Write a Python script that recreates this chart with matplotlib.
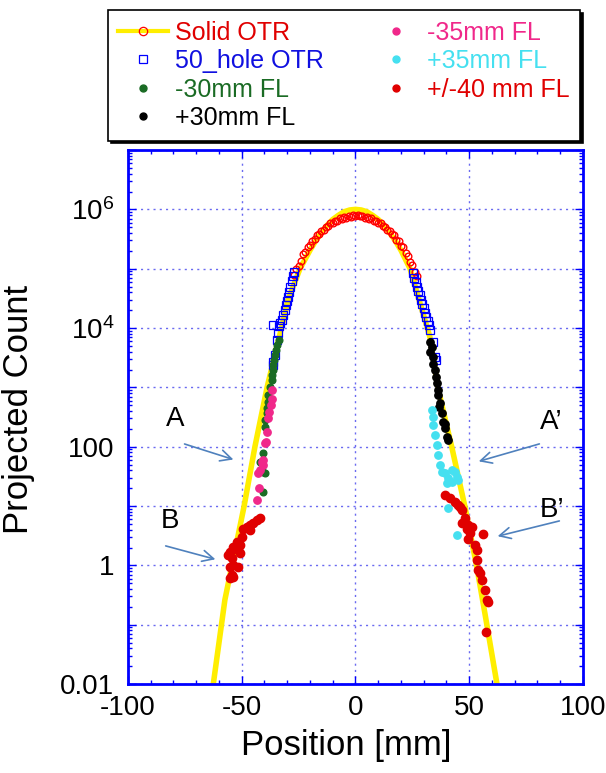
import numpy as np
import matplotlib
matplotlib.use('Agg')
import matplotlib.pyplot as plt
from matplotlib import rc
from matplotlib.lines import Line2D
from matplotlib.ticker import FixedLocator, FuncFormatter, MultipleLocator, LogLocator, NullFormatter

rc('font', family='Liberation Sans')
rc('mathtext', default='regular')
rc('axes', unicode_minus=False)

# all y values are log10(count)
# yellow fit curve
fit_x = [-63.2, -62.5, -57.4, -54.4, -49.0, -44.2, -38.8, -32.4, -29.7, -24.4, -20.0, -17.5, -15.0,
         -12.5, -10.0, -7.5, -5.0, -2.5, 0.0, 2.5, 5.0, 7.5, 10.0, 12.5, 15.0, 17.5, 20.0, 24.0,
         25.4, 32.7, 36.4, 42.3, 48.1, 53.3, 56.9, 62.2, 62.9]
fit_log = [-2.1, -2.0, -0.58, -0.02, 0.99, 2.0, 3.01, 4.02, 4.47, 5.0, 5.31, 5.47, 5.61,
           5.73, 5.83, 5.90, 5.96, 5.99, 6.0, 5.99, 5.96, 5.90, 5.83, 5.73, 5.61, 5.47, 5.31, 5.0,
           4.81, 3.85, 2.96, 2.0, 0.99, -0.02, -0.81, -2.0, -2.1]

# Solid OTR (open red circles)
solid_x = list(range(-27, 28))
solid_log = [4.90, 4.99, 5.04, 5.13, 5.24, 5.28, 5.37, 5.40, 5.47, 5.50, 5.56, 5.58, 5.64,
             5.66, 5.71, 5.72, 5.77, 5.77, 5.81, 5.81, 5.85, 5.84, 5.87, 5.86, 5.89, 5.87, 5.90,
             5.88, 5.90, 5.88, 5.89, 5.86, 5.87, 5.84, 5.85, 5.81, 5.81, 5.77, 5.77, 5.72, 5.71,
             5.66, 5.64, 5.58, 5.56, 5.49, 5.46, 5.39, 5.36, 5.27, 5.22, 5.12, 5.06, 4.95, 4.88]

# 50_hole OTR (open blue squares)
hole_x = [-27.0, -27.5, -28.0, -28.6, -29.2, -29.6, -30.1, -30.6, -31.2, -31.8, -32.4, -33.0,
          -33.6, -34.6, -36.1, -34.0, -35.4, -36.1, -36.4,
          25.2, 25.8, 26.4, 27.0, 27.6, 28.2, 28.8, 29.4, 30.0, 30.6, 31.2, 31.8, 32.4, 32.9,
          34.2, 34.9, 35.6]
hole_log = [4.95, 4.88, 4.80, 4.70, 4.60, 4.52, 4.45, 4.38, 4.30, 4.22, 4.14, 4.08,
            4.03, 3.80, 4.05, 3.91, 3.54, 3.43, 3.38,
            4.92, 4.85, 4.77, 4.70, 4.62, 4.55, 4.47, 4.40, 4.33, 4.26, 4.19, 4.12, 4.05, 3.96,
            3.77, 3.52, 3.46]

# -30mm FL (green)
m30_x = [-33.7, -34.6, -34.9, -35.4, -35.8, -36.1, -36.4, -36.8, -36.8, -37.6, -38.3, -38.3,
         -39.0, -39.0, -39.8, -39.8, -40.5, -42.0, -40.5, -39.8, -40.5]
m30_log = [3.80, 3.71, 3.63, 3.54, 3.46, 3.37, 3.29, 3.21, 3.12, 3.01, 2.87, 2.76,
           2.65, 2.56, 2.45, 2.34, 1.89, 1.75, 1.58, 1.55, 1.24]

# +30mm FL (black)
p30_x = [32.7, 33.5, 32.7, 33.9, 34.2, 34.9, 35.4, 35.7, 36.4, 36.4, 37.1, 36.8, 37.9, 38.6,
         39.3, 39.3, 40.1, 40.8]
p30_log = [3.77, 3.68, 3.60, 3.51, 3.40, 3.29, 3.18, 3.07, 2.95, 2.87, 2.73, 2.67, 2.56, 2.42,
           2.39, 2.31, 2.17, 2.11]

# -35mm FL (pink)
m35_x = [-36.8, -36.8, -37.3, -37.9, -38.3, -39.0, -39.3, -39.8, -40.5, -41.2, -40.8, -42.0,
         -42.7, -42.3, -43.2]
m35_log = [2.95, 2.81, 2.70, 2.59, 2.48, 2.25, 2.08, 2.06, 1.77, 1.75, 1.69, 1.61,
           1.55, 1.30, 1.11]

# +35mm FL (cyan)
p35_x = [33.5, 34.2, 34.2, 34.9, 35.7, 36.4, 37.1, 37.9, 39.3, 40.8, 42.3, 43.7, 44.5, 45.2,
         40.1, 42.3, 40.8, 44.5]
p35_log = [2.62, 2.50, 2.36, 2.20, 2.03, 1.86, 1.69, 1.58, 1.55, 1.47, 1.61, 1.58, 1.49, 1.44,
           1.38, 1.41, 0.96, 0.51]

# +/-40 mm FL (red)
pm40_x = [-42.0, -43.4, -44.9, -46.4, -47.8, -49.3, -46.4, -50.0, -52.2, -50.8, -53.0, -51.5,
          -53.7, -55.2, -55.9, -54.4, -50.8, -53.7, -51.5, -55.2, -54.4, -55.2, -53.7,
          39.3, 41.5, 43.7, 45.2, 45.9, 46.7, 48.1, 46.7, 49.6, 51.1, 48.9, 50.3, 49.6, 56.2,
          52.5, 53.3, 53.3, 54.0, 54.7, 55.5, 56.9, 57.7, 58.4, 57.4]
pm40_log = [0.79, 0.76, 0.71, 0.68, 0.65, 0.62, 0.59, 0.48, 0.40, 0.34, 0.31, 0.26,
            0.31, 0.23, 0.17, 0.12, 0.20, 0.01, -0.02, -0.02, -0.16, -0.22, -0.19,
            1.18, 1.13, 1.07, 1.02, 0.99, 0.93, 0.79, 0.71, 0.68, 0.65, 0.62, 0.54, 0.45, 0.53,
            0.34, 0.26, 0.09, -0.08, -0.13, -0.25, -0.42, -0.58, -0.61, -1.13]

col_yellow = '#FFEE00'
col_red = '#E00000'
col_blue = '#1010E0'
col_green = '#1A6B24'
col_pink = '#F0288A'
col_cyan = '#45E0F0'

fig = plt.figure(figsize=(6.06, 7.73), dpi=100)
ax = fig.add_axes([0.2112, 0.1151, 0.7508, 0.6908])

def pw(v):
    return 10.0 ** np.array(v)

ax.plot(fit_x, pw(fit_log), color=col_yellow, lw=4, zorder=2, solid_capstyle='butt')
ax.plot(solid_x, pw(solid_log), ls='none', marker='o', ms=4.8, mfc='none', mec='red', mew=1.0, zorder=3)
ax.plot(hole_x, pw(hole_log), ls='none', marker='s', ms=5.5, mfc='none', mec='blue', mew=0.9, zorder=3)
ax.plot(m30_x, pw(m30_log), ls='none', marker='o', ms=4.8, color=col_green, zorder=4)
ax.plot(p30_x, pw(p30_log), ls='none', marker='o', ms=5.3, color='black', zorder=4)
ax.plot(m35_x, pw(m35_log), ls='none', marker='o', ms=5.3, color=col_pink, zorder=4)
ax.plot(p35_x, pw(p35_log), ls='none', marker='o', ms=5.3, color=col_cyan, zorder=4)
ax.plot(pm40_x, pw(pm40_log), ls='none', marker='o', ms=6, color=col_red, zorder=4)

ax.set_yscale('log')
ax.set_xlim(-100, 100)
ax.set_ylim(0.01, 1e7)

# ticks
ax.xaxis.set_major_locator(MultipleLocator(50))
ax.xaxis.set_minor_locator(MultipleLocator(10))
ax.yaxis.set_major_locator(FixedLocator([10.0 ** k for k in range(-2, 8)]))
ax.yaxis.set_minor_locator(LogLocator(base=10, subs=np.arange(2, 10), numticks=20))
ax.yaxis.set_minor_formatter(NullFormatter())
ylabels = {-2: '0.01', 0: '1', 2: '100', 4: '$10^{4}$', 6: '$10^{6}$'}
ax.yaxis.set_major_formatter(FuncFormatter(lambda v, p: ylabels.get(int(round(np.log10(v))), '')))
ax.tick_params(which='both', direction='in', top=True, right=True, color='blue', labelsize=20)
ax.tick_params(which='major', length=6, width=1)
ax.tick_params(which='minor', length=3, width=1)
ax.tick_params(axis='x', pad=8)
ax.tick_params(axis='y', pad=10)

for s in ax.spines.values():
    s.set_color('blue')
    s.set_linewidth(2)

ax.grid(which='major', color='#6A6AF0', linestyle=(0, (1.5, 3)), linewidth=1)

ax.set_xlabel('Position [mm]', fontsize=25)
ax.set_ylabel('Projected Count', fontsize=25)
ax.xaxis.set_label_coords(0.479, -0.084)
ax.yaxis.set_label_coords(-0.205, 0.514)

# annotations A, B, A', B'
arrow_col = '#4F81BD'
aprops = dict(arrowstyle='->, head_length=0.5, head_width=0.25', color=arrow_col, lw=1.2, mutation_scale=16)
ax.text(-79.3, 10 ** 2.47, 'A', fontsize=20, ha='center', va='center')
ax.annotate('', xy=(-52.5, 10 ** 1.77), xytext=(-76.3, 10 ** 2.06), arrowprops=aprops)
ax.text(-81.5, 10 ** 0.74, 'B', fontsize=20, ha='center', va='center')
ax.annotate('', xy=(-60.4, 10 ** 0.09), xytext=(-84.6, 10 ** 0.34), arrowprops=aprops)
ax.text(85.9, 10 ** 2.41, 'A\u2019', fontsize=20, ha='center', va='center')
ax.annotate('', xy=(53.0, 10 ** 1.74), xytext=(82.0, 10 ** 2.06), arrowprops=aprops)
ax.text(86.4, 10 ** 0.94, 'B\u2019', fontsize=20, ha='center', va='center')
ax.annotate('', xy=(61.3, 10 ** 0.48), xytext=(90.8, 10 ** 0.76), arrowprops=aprops)

# legend
handles = [
    Line2D([], [], color=col_yellow, lw=3, marker='o', ms=6, mfc='none', mec='red', mew=0.9),
    Line2D([], [], ls='none', marker='s', ms=6, mfc='none', mec='blue', mew=0.9),
    Line2D([], [], ls='none', marker='o', ms=5, color=col_green),
    Line2D([], [], ls='none', marker='o', ms=5, color='black'),
    Line2D([], [], ls='none', marker='o', ms=5, color=col_pink),
    Line2D([], [], ls='none', marker='o', ms=5, color=col_cyan),
    Line2D([], [], ls='none', marker='o', ms=5, color=col_red),
]
labels = ['Solid OTR', '50_hole OTR', '-30mm FL', '+30mm FL', '-35mm FL', '+35mm FL', '+/-40 mm FL']
label_cols = [col_red, col_blue, col_green, 'black', col_pink, col_cyan, col_red]
leg = fig.legend(handles, labels, loc='upper left', bbox_to_anchor=(0.178, 0.987, 0.779, 0),
                 mode='expand', ncol=2, fontsize=18, frameon=True, fancybox=False,
                 edgecolor='black', shadow={'color': 'black', 'alpha': 1},
                 borderaxespad=0, handlelength=2.0, handletextpad=0.25,
                 labelspacing=0.18, borderpad=0.42, numpoints=1, labelcolor=label_cols)
leg.get_frame().set_linewidth(1.2)

fig.savefig('out.png', dpi=100)
